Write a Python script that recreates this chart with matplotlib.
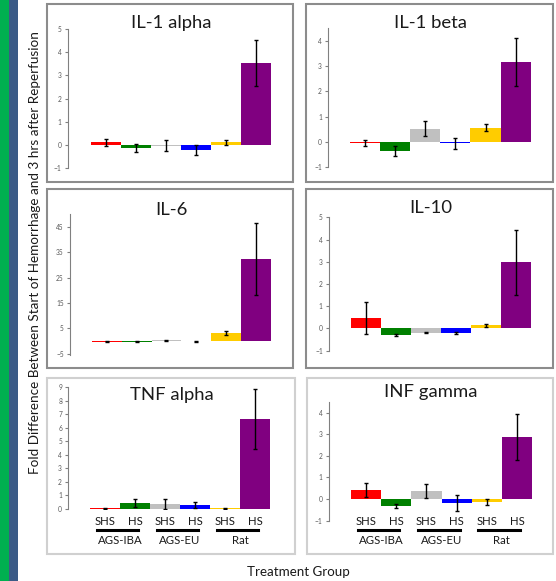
import matplotlib
matplotlib.use("Agg")
import matplotlib.pyplot as plt
from matplotlib.patches import Rectangle
import numpy as np

plt.rcParams['font.family'] = ['Lato', 'DejaVu Sans']

W, H = 556, 581
colors = ['#FF0000', '#008000', '#C0C0C0', '#0000FF', '#FFCC00', '#800080']
bar_labels = ['SHS', 'HS', 'SHS', 'HS', 'SHS', 'HS']
groups = ['AGS-IBA', 'AGS-EU', 'Rat']

titles = ['IL-1 alpha', 'IL-1 beta', 'IL-6', 'IL-10', 'TNF alpha', 'INF gamma']
il1a = [0.10, -0.15, -0.05, -0.24, 0.10, 3.53]
il1a_err = [0.16, 0.16, 0.24, 0.21, 0.11, 0.99]
il1b = [-0.04, -0.34, 0.53, -0.05, 0.57, 3.17]
il1b_err = [0.12, 0.20, 0.30, 0.22, 0.15, 0.95]
il6 = [-0.3, -0.3, 0.3, -0.1, 3.2, 32.4]
il6_err = [0.2, 0.2, 0.3, 0.3, 0.9, 14.1]
il10 = [0.47, -0.29, -0.19, -0.20, 0.15, 2.97]
il10_err = [0.72, 0.03, 0.03, 0.03, 0.07, 1.46]
tnf = [0.05, 0.44, 0.37, 0.29, 0.05, 6.63]
tnf_err = [0.05, 0.30, 0.40, 0.25, 0.05, 2.20]
inf = [0.42, -0.31, 0.37, -0.17, -0.14, 2.86]
inf_err = [0.32, 0.10, 0.34, 0.38, 0.12, 1.06]

values = [il1a, il1b, il6, il10, tnf, inf]
errors = [il1a_err, il1b_err, il6_err, il10_err, tnf_err, inf_err]
ylims = [(-1, 5), (-1, 4.5), (-5.5, 50), (-1, 5), (0, 9), (-1, 4.5)]
yticks = [range(-1, 6), range(-1, 5), range(-5, 50, 10), range(-1, 6), range(0, 10), range(-1, 5)]

# layout in pixels: box (l, t, r, b), axis x, bar start, bar end, y px of ylim top, ylim bottom, title y
boxes = [(47, 4, 293, 182), (306, 4, 553, 182), (47, 189, 293, 368),
         (306, 189, 553, 368), (47, 378, 295, 554), (307, 378, 553, 554)]
axis_px = [(68, 91, 271, 29.3, 167.7), (328.3, 350, 530.7, 28.3, 167.3),
           (70, 92, 270.7, 214.3, 355), (329, 351, 530.7, 217.3, 350.7),
           (68.3, 90, 270, 387, 509), (328.7, 351, 532, 401.7, 520.7)]
title_y = [23, 23, 210, 208, 395, 392]

fig = plt.figure(figsize=(W / 100, H / 100), dpi=100)

def fx(x):
    return x / W

def fy(y):
    return 1 - y / H

# side stripes
fig.add_artist(Rectangle((0, 0), fx(9), 1, transform=fig.transFigure, color='#00B050', lw=0))
fig.add_artist(Rectangle((fx(9), 0), fx(9), 1, transform=fig.transFigure, color='#3B5B87', lw=0))

for i in range(6):
    l, t, r, b = boxes[i]
    ec = '#8C8C8C' if i < 4 else '#D0D0D0'
    fig.add_artist(Rectangle((fx(l), fy(b)), fx(r - l), (b - t) / H, transform=fig.transFigure,
                             fill=False, ec=ec, lw=1.5))
    ax_x, b0, b1, ytop, ybot = axis_px[i]
    unit = (b1 - b0) / 6
    xl = -0.5 - (b0 - ax_x) / unit
    xr = 5.5 + 3 / unit
    ax = fig.add_axes([fx(ax_x), fy(ybot), fx(b1 + 3 - ax_x), (ybot - ytop) / H])
    ax.patch.set_alpha(0)
    x = np.arange(6)
    ax.bar(x, values[i], width=1.0, color=colors, yerr=errors[i], capsize=1.5,
           error_kw=dict(elinewidth=1, capthick=1, ecolor='black'))
    ax.set_xlim(xl, xr)
    ax.set_ylim(*ylims[i])
    ax.set_yticks(list(yticks[i]))
    ax.tick_params(axis='y', labelsize=4.8, labelcolor='#595959', color='#808080',
                   length=2.5, width=0.8, pad=2)
    ax.set_xticks([])
    for s in ['top', 'right', 'bottom']:
        ax.spines[s].set_visible(False)
    ax.spines['left'].set_color('#808080')
    ax.spines['left'].set_linewidth(0.8)
    fig.text(fx((l + r) / 2 + 1), fy(title_y[i]), titles[i], ha='center', va='center',
             fontsize=13.3, color='#1a1a1a')

    if i >= 4:
        centers = ax_x + (b0 - ax_x) + unit * (x + 0.5)
        for j in range(6):
            fig.text(fx(centers[j]), fy(521.5), bar_labels[j], ha='center', va='center',
                     fontsize=8.2, color='#1a1a1a')
        for g in range(3):
            c0 = centers[2 * g]
            fig.add_artist(plt.Line2D([fx(c0 - 0.28 * unit), fx(c0 + 1.1 * unit)],
                                      [fy(530), fy(530)], transform=fig.transFigure,
                                      color='black', lw=2.2))
            fig.text(fx(c0 + 0.5 * unit), fy(540.5), groups[g], ha='center', va='center',
                     fontsize=8.2, color='#1a1a1a')

fig.text(fx(35), fy(252.5), 'Fold Difference Between Start of Hemorrhage and 3 hrs after Reperfusion',
         rotation=90, ha='center', va='center', fontsize=9.7, color='#1a1a1a')
fig.text(fx(298), fy(572.5), 'Treatment Group', ha='center', va='center', fontsize=9.6,
         color='#1a1a1a')

fig.savefig('out.png', dpi=100)
